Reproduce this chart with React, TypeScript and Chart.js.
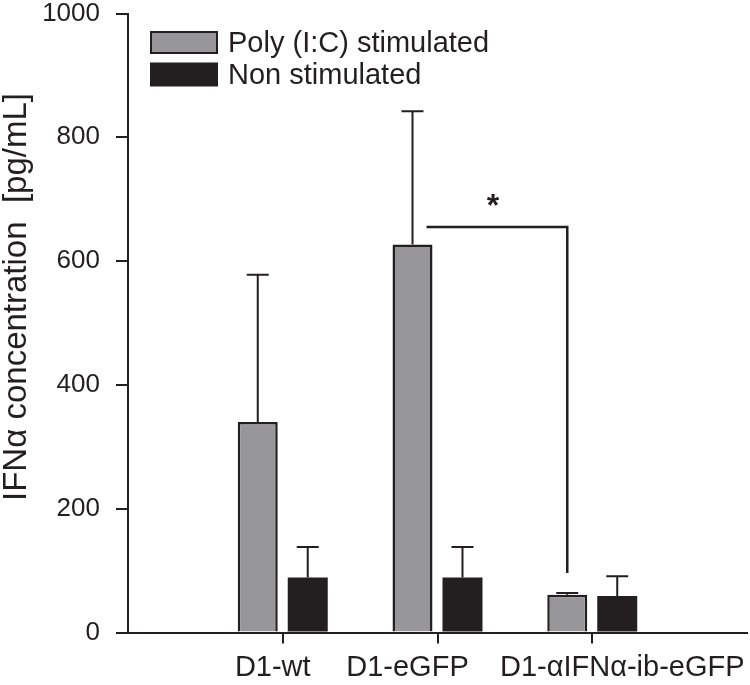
import React, { useEffect, useRef } from "react";
import { Chart, registerables } from "chart.js";

Chart.register(...registerables);

// ---- data ----
const categories = ["", "D1-wt", "D1-eGFP", "D1-αIFNα-ib-eGFP", ""];
const seriesLabels = ["Poly (I:C) stimulated", "Non stimulated"];
const polyValues = [null, 340, 627, 61, null];
const polyUpper = [null, 578, 842, 64, null];
const nonValues = [null, 89, 89, 59, null];
const nonUpper = [null, 138, 138, 91, null];
const yTickValues = [0, 200, 400, 600, 800, 1000];
const yTitle = "IFNα concentration  [pg/mL]";
const sigFrom = 2;
const sigTo = 3;
const sigLevel = 655;
const sigBottom = 96;
const sigText = "*";

// ---- layout / style ----
const xLabelShift = [0, -10, -30, 30, 0];
const INK = "#231f20";
const GREY = "#97979a";
const FONT = "'Liberation Sans', Arial, Helvetica, sans-serif";

const overlayPlugin = {
  id: "overlay",
  afterDatasetsDraw(chart: any) {
    const ctx = chart.ctx;
    const y = chart.scales.y;
    const uppers = [polyUpper, nonUpper];
    ctx.save();
    ctx.strokeStyle = INK;
    ctx.lineWidth = 2;
    ctx.lineCap = "butt";
    uppers.forEach((arr, di) => {
      const meta = chart.getDatasetMeta(di);
      arr.forEach((u, j) => {
        if (u == null) return;
        const bar = meta.data[j];
        const yc = y.getPixelForValue(u);
        ctx.beginPath();
        ctx.moveTo(bar.x, bar.y);
        ctx.lineTo(bar.x, yc);
        ctx.moveTo(bar.x - 11, yc);
        ctx.lineTo(bar.x + 11, yc);
        ctx.stroke();
      });
    });
    // significance bracket
    const m0 = chart.getDatasetMeta(0);
    const b1 = m0.data[sigFrom];
    const b2 = m0.data[sigTo];
    const x1 = b1.x + b1.width * 0.35;
    const x2 = b2.x;
    const yl = y.getPixelForValue(sigLevel);
    const yb = y.getPixelForValue(sigBottom);
    ctx.lineWidth = 2.5;
    ctx.beginPath();
    ctx.moveTo(x1, yl);
    ctx.lineTo(x2, yl);
    ctx.lineTo(x2, yb);
    ctx.stroke();
    ctx.fillStyle = INK;
    ctx.font = `bold 32px ${FONT}`;
    ctx.textAlign = "center";
    ctx.textBaseline = "middle";
    ctx.fillText(sigText, (x1 + x2) / 2 - 4, yl - 20);
    ctx.restore();
  },
  afterDraw(chart: any) {
    const ctx = chart.ctx;
    const area = chart.chartArea;
    const xs = chart.scales.x;
    ctx.save();
    // x category labels
    ctx.fillStyle = INK;
    ctx.font = `29px ${FONT}`;
    ctx.textAlign = "center";
    ctx.textBaseline = "alphabetic";
    categories.forEach((c, i) => {
      if (!c) return;
      ctx.fillText(c, xs.getPixelForTick(i) + xLabelShift[i], area.bottom + 43);
    });
    // legend
    const fills = [GREY, INK];
    const rx = area.left + 23;
    const rows = [
      { top: area.top + 18.5, h: 21 },
      { top: area.top + 50, h: 22 },
    ];
    ctx.font = `29px ${FONT}`;
    ctx.textBaseline = "middle";
    ctx.textAlign = "left";
    rows.forEach((r, i) => {
      ctx.fillStyle = fills[i];
      ctx.fillRect(rx, r.top, 66, r.h);
      ctx.strokeStyle = INK;
      ctx.lineWidth = 2;
      ctx.strokeRect(rx, r.top, 66, r.h);
      ctx.fillStyle = INK;
      ctx.fillText(seriesLabels[i], rx + 77, r.top + r.h / 2 + 1);
    });
    // y title
    ctx.translate(17, 297);
    ctx.rotate(-Math.PI / 2);
    ctx.font = `33px ${FONT}`;
    ctx.textAlign = "center";
    ctx.textBaseline = "middle";
    ctx.fillStyle = INK;
    ctx.fillText(yTitle, 0, 0);
    ctx.restore();
  },
};

export default function App() {
  const ref = useRef<HTMLCanvasElement | null>(null);
  useEffect(() => {
    if (!ref.current) return;
    const chart = new Chart(ref.current, {
      type: "bar",
      data: {
        labels: categories,
        datasets: [
          {
            label: seriesLabels[0],
            data: polyValues as any,
            backgroundColor: GREY,
            borderColor: INK,
            borderWidth: 2.5,
            borderSkipped: "bottom",
            barPercentage: 0.8,
            categoryPercentage: 0.646,
          },
          {
            label: seriesLabels[1],
            data: nonValues as any,
            backgroundColor: INK,
            borderColor: INK,
            borderWidth: 0,
            barPercentage: 0.8,
            categoryPercentage: 0.646,
          },
        ],
      },
      options: {
        responsive: false,
        animation: false,
        layout: { padding: { left: 0, right: 3, top: 13.5, bottom: 0 } },
        plugins: {
          legend: { display: false },
          tooltip: { enabled: false },
        },
        scales: {
          x: {
            type: "category",
            offset: false,
            grid: {
              offset: false,
              drawOnChartArea: false,
              drawTicks: true,
              tickLength: 11,
              lineWidth: 2,
              color: (c: any) =>
                c.index === 0 || c.index === categories.length - 1 ? "rgba(0,0,0,0)" : INK,
            },
            border: { color: INK, width: 2 },
            ticks: {
              display: false,
              autoSkip: false,
            },
            afterFit(scale: any) {
              scale.height = 52.5;
            },
          },
          y: {
            min: 0,
            max: 1000,
            afterBuildTicks(scale: any) {
              scale.ticks = yTickValues.map((v) => ({ value: v }));
            },
            grid: {
              drawOnChartArea: false,
              drawTicks: true,
              tickLength: 12,
              lineWidth: 2,
              color: INK,
            },
            border: { color: INK, width: 2 },
            ticks: {
              color: INK,
              font: { family: FONT, size: 26, lineHeight: 1 },
              padding: 16,
              callback: (v: any) => String(v),
            },
            afterFit(scale: any) {
              scale.width = 128;
              scale.paddingTop = 0;
              scale.paddingBottom = 0;
            },
          },
        },
      },
      plugins: [overlayPlugin],
    });
    return () => chart.destroy();
  }, []);
  return (
    <div style={{ position: "fixed", left: 0, top: 0, width: 750, height: 685, background: "#fff" }}>
      <canvas ref={ref} width={750} height={685} style={{ width: 750, height: 685 }} />
    </div>
  );
}
